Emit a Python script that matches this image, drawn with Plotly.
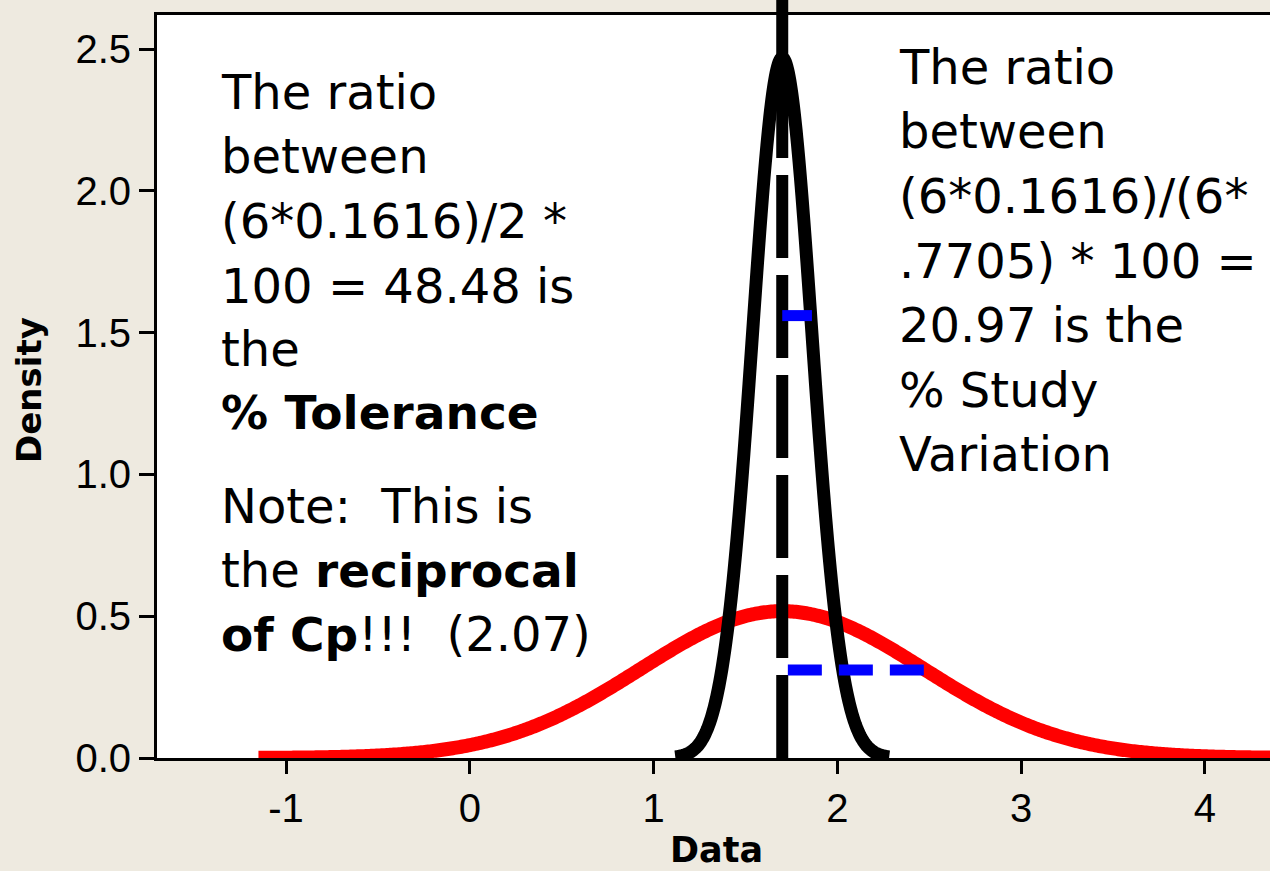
import numpy as np
import plotly.graph_objects as go

# Process parameters
MEAN = 1.7
SD_PART = 0.1616     # part-to-part / measurement spread (narrow curve)
SD_TOTAL = 0.7705    # total variation (wide curve)

# Sampling ranges of the two density curves
NARROW_X = (1.118, 2.282)
WIDE_X = (-1.15, 4.5)

# Marker heights of the blue sigma bars
NARROW_BAR_Y = 1.56
WIDE_BAR_Y = 0.31

X_TICKS = [-1, 0, 1, 2, 3, 4]
Y_TICKS = [0.0, 0.5, 1.0, 1.5, 2.0, 2.5]

X_RANGE = [-1.702, 4.354]
Y_RANGE = [0.0, 2.620]

BG = "#EEEAE0"
TXT_FONT = "DejaVu Sans"
AX_FONT = "Liberation Sans, Arial"

# Layout geometry (pixels)
W, H = 1270, 871
ML, MR, MT, MB = 157, 0, 15, 113
PW, PH = W - ML - MR, H - MT - MB


def px(xp):
    return (xp - ML) / PW


def py(yp):
    return (H - MB - yp) / PH


def normal_pdf(x, mu, sd):
    return np.exp(-0.5 * ((x - mu) / sd) ** 2) / (sd * np.sqrt(2 * np.pi))


xn = np.linspace(*NARROW_X, 300)
xw = np.linspace(*WIDE_X, 600)

fig = go.Figure()

fig.add_trace(go.Scatter(x=xw, y=normal_pdf(xw, MEAN, SD_TOTAL), mode="lines",
                         line=dict(color="#FF0000", width=14, simplify=False),
                         hoverinfo="skip"))
fig.add_trace(go.Scatter(x=xn, y=normal_pdf(xn, MEAN, SD_PART), mode="lines",
                         line=dict(color="#000000", width=13, simplify=False),
                         hoverinfo="skip"))
# Mean reference line
fig.add_trace(go.Scatter(x=[MEAN, MEAN], y=[0, Y_RANGE[1] + 0.2], mode="lines",
                         line=dict(color="#000000", width=12, dash="83px,17px"),
                         hoverinfo="skip"))
# One-sigma bars
fig.add_trace(go.Scatter(x=[MEAN, MEAN + SD_PART], y=[NARROW_BAR_Y, NARROW_BAR_Y],
                         mode="lines", line=dict(color="#0000FF", width=11),
                         hoverinfo="skip"))
fig.add_trace(go.Scatter(x=[MEAN + SD_TOTAL, MEAN], y=[WIDE_BAR_Y, WIDE_BAR_Y],
                         mode="lines",
                         line=dict(color="#0000FF", width=11, dash="34px,17px"),
                         hoverinfo="skip"))

# Mean line continuing above the frame, with its label
fig.add_shape(type="line", xref="x", yref="paper", x0=MEAN, x1=MEAN,
              y0=1.0, y1=py(-5), line=dict(color="#000000", width=12))
fig.add_annotation(x=MEAN, xref="x", y=py(4), yref="paper",
                   xanchor="center", yanchor="bottom",
                   text=str(MEAN), showarrow=False,
                   font=dict(family=AX_FONT, size=30, color="#000000"))

B = '<b><span style="font-size:47px">{}</span></b>'

left_lines = [
    ("The ratio", 92),
    ("between", 156),
    ("(6*0.1616)/2 *", 221),
    ("100 = 48.48 is", 286),
    ("the", 349),
    (B.format("% Tolerance"), 412),
    ("Note:&nbsp;&nbsp;This is", 506),
    ("the " + B.format("reciprocal"), 570),
    (B.format("of Cp") + "!!!&nbsp;&nbsp;(2.07)", 634),
]
right_lines = [
    ("The ratio", 67),
    ("between", 131),
    ("(6*0.1616)/(6*", 196),
    (".7705) * 100 =", 261),
    ("20.97 is the", 325),
    ("% Study", 390),
    ("Variation", 454),
]

for text, yp in left_lines:
    fig.add_annotation(x=px(219), y=py(yp), xref="paper", yref="paper",
                       xanchor="left", yanchor="middle", text=text, showarrow=False,
                       font=dict(family=TXT_FONT, size=48, color="#000000"))
for text, yp in right_lines:
    fig.add_annotation(x=px(897), y=py(yp), xref="paper", yref="paper",
                       xanchor="left", yanchor="middle", text=text, showarrow=False,
                       font=dict(family=TXT_FONT, size=48, color="#000000"))

# Axis titles
fig.add_annotation(x=px(29), y=py(390), xref="paper", yref="paper", text="<b>Density</b>",
                   xanchor="center", yanchor="middle",
                   textangle=-90, showarrow=False,
                   font=dict(family=TXT_FONT, size=34, color="#000000"))
fig.add_annotation(x=px(716), y=py(850), xref="paper", yref="paper", text="<b>Data</b>",
                   xanchor="center", yanchor="middle",
                   showarrow=False,
                   font=dict(family=TXT_FONT, size=35, color="#000000"))

fig.update_layout(
    width=W, height=H,
    margin=dict(l=ML, r=MR, t=MT, b=MB, pad=0),
    paper_bgcolor=BG, plot_bgcolor="#FFFFFF",
    showlegend=False,
    xaxis=dict(range=X_RANGE, tickvals=X_TICKS, ticktext=[str(v) for v in X_TICKS],
               showgrid=False, zeroline=False, showline=True, linecolor="#000000",
               linewidth=3, mirror=True, ticks="outside", ticklen=13, tickwidth=3,
               tickcolor="#000000",
               tickfont=dict(family=AX_FONT, size=40, color="#000000")),
    yaxis=dict(range=Y_RANGE, tickvals=Y_TICKS, ticktext=[f"{v:.1f}" for v in Y_TICKS],
               showgrid=False, zeroline=False, showline=True, linecolor="#000000",
               linewidth=3, ticks="outside", ticklen=15, tickwidth=3,
               tickcolor="#000000",
               tickfont=dict(family=AX_FONT, size=40, color="#000000")),
)

fig.write_html("out.html")
